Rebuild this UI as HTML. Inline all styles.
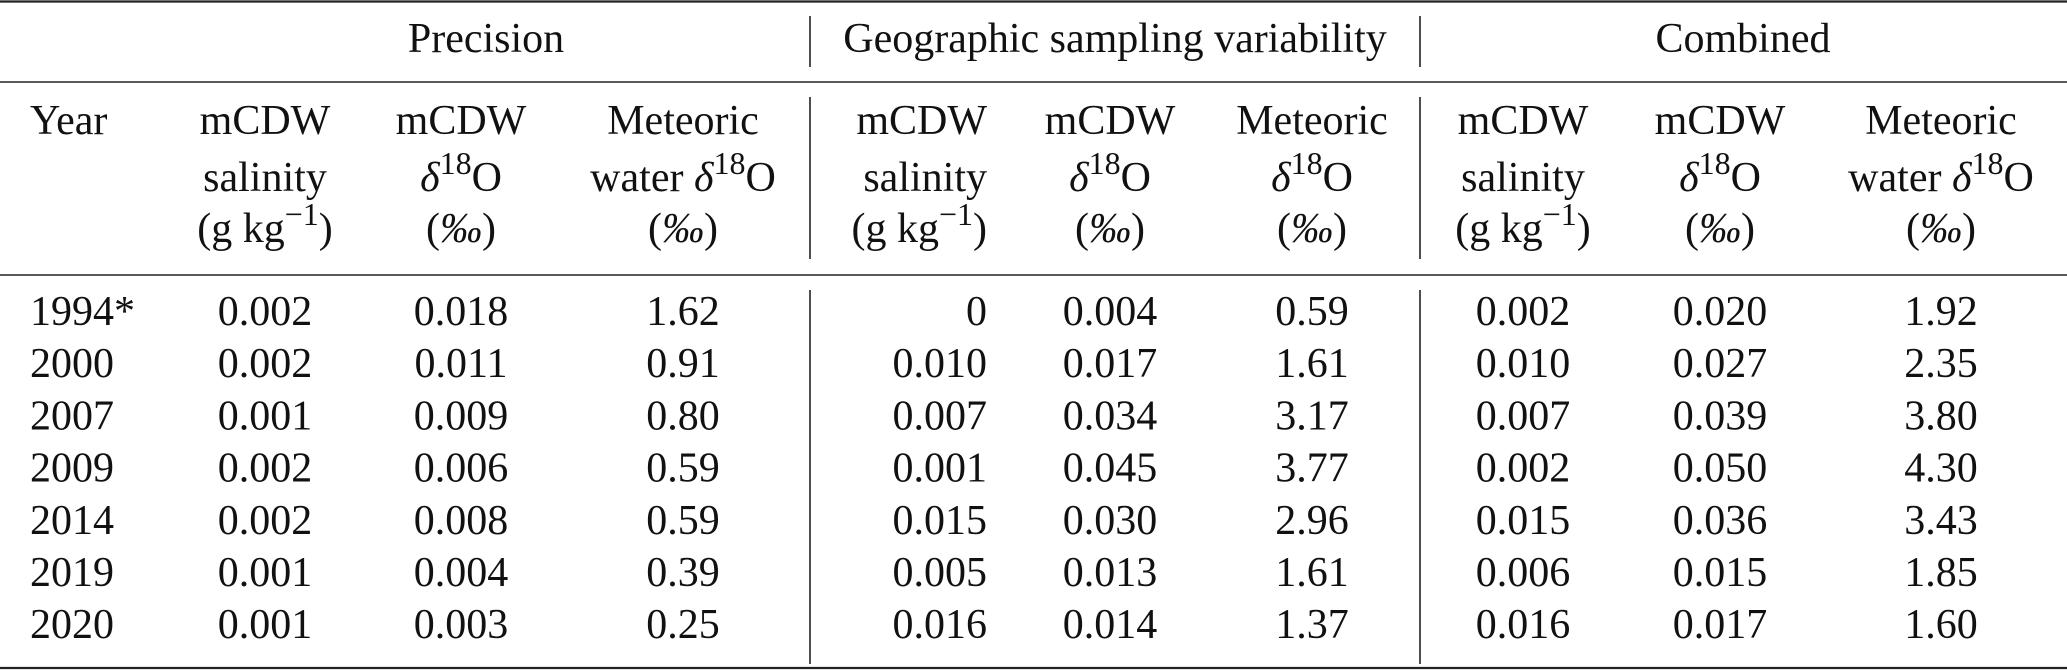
<!DOCTYPE html>
<html><head><meta charset="utf-8"><style>
html,body{margin:0;padding:0;background:#fff;}
svg{display:block;font-family:"Liberation Serif","DejaVu Serif",serif;}
text{fill:#111;font-size:42px;}
</style></head><body>
<svg id="tbl" width="2067" height="670" viewBox="0 0 2067 670">
<g id="rules">
<line x1="0" y1="1.5" x2="2067" y2="1.5" stroke="#222" stroke-width="2.2"/>
<line x1="0" y1="82" x2="2067" y2="82" stroke="#222" stroke-width="1.6"/>
<line x1="0" y1="275" x2="2067" y2="275" stroke="#222" stroke-width="1.6"/>
<line x1="0" y1="668" x2="2067" y2="668" stroke="#222" stroke-width="2.2"/>
</g>
<g id="header"></g>
<g id="body"></g>
</svg>
<script>
const years = ["1994*","2000","2007","2009","2014","2019","2020"];
const precSal = ["0.002","0.002","0.001","0.002","0.002","0.001","0.001"];
const precD18 = ["0.018","0.011","0.009","0.006","0.008","0.004","0.003"];
const precMet = ["1.62","0.91","0.80","0.59","0.59","0.39","0.25"];
const geoSal = ["0","0.010","0.007","0.001","0.015","0.005","0.016"];
const geoD18 = ["0.004","0.017","0.034","0.045","0.030","0.013","0.014"];
const geoMet = ["0.59","1.61","3.17","3.77","2.96","1.61","1.37"];
const combSal = ["0.002","0.010","0.007","0.002","0.015","0.006","0.016"];
const combD18 = ["0.020","0.027","0.039","0.050","0.036","0.015","0.017"];
const combMet = ["1.92","2.35","3.80","4.30","3.43","1.85","1.60"];
const groups = ["Precision","Geographic sampling variability","Combined"];

const NS="http://www.w3.org/2000/svg";
const hdr=document.getElementById('header'), body=document.getElementById('body'), svg=document.getElementById('tbl');
function txt(parent,x,y,anchor,html,name){
  const t=document.createElementNS(NS,'text');
  t.setAttribute('x',x);t.setAttribute('y',y);t.setAttribute('text-anchor',anchor);
  t.innerHTML=html;
  
  
  parent.appendChild(t);return t;
}
function vline(x,y1,y2,name){
  const l=document.createElementNS(NS,'line');
  l.setAttribute('x1',x);l.setAttribute('x2',x);l.setAttribute('y1',y1);l.setAttribute('y2',y2);
  l.setAttribute('stroke','#222');l.setAttribute('stroke-width','1.6');
  
  
  svg.appendChild(l);
}
const cols=[[30,'start'],[265,'middle'],[461,'middle'],[683,'middle'],[987,'end'],[1110,'middle'],[1312,'middle'],[1523,'middle'],[1720,'middle'],[1941,'middle']];
const groupX=[486,1115,1743];
groups.forEach((g,i)=>txt(hdr,groupX[i],52,'middle',g,'group-header-'+i));
[810,1420].forEach((x,i)=>{vline(x,16,67,'group-divider-'+i);vline(x,97,259,'header-divider-'+i);vline(x,290,664,'body-divider-'+i);});

const dItal='<tspan font-style="italic">δ</tspan><tspan font-size="32" dy="-17">18</tspan><tspan dy="17">O</tspan>';
const unitSal='(g kg<tspan font-size="32" dy="-17">−1</tspan><tspan dy="17">)</tspan>';
const unitPm='(<tspan font-style="italic">‰</tspan>)';
const B1=134,B2=191,B3=242;
txt(hdr,cols[0][0],B1,'start','Year','year-header');
const salHdr=(c,n)=>{txt(hdr,cols[c][0],B1,cols[c][1],'mCDW',n);txt(hdr,cols[c][0],B2,cols[c][1],'salinity',n+'-2');txt(hdr,cols[c][0],B3,cols[c][1],unitSal,n+'-unit');};
const d18Hdr=(c,n)=>{txt(hdr,cols[c][0],B1,'middle','mCDW',n);txt(hdr,cols[c][0],B2,'middle',dItal,n+'-2');txt(hdr,cols[c][0],B3,'middle',unitPm,n+'-unit');};
const metHdr=(c,n,water)=>{txt(hdr,cols[c][0],B1,'middle','Meteoric',n);txt(hdr,cols[c][0],B2,'middle',(water?'water ':'')+dItal,n+'-2');txt(hdr,cols[c][0],B3,'middle',unitPm,n+'-unit');};
salHdr(1,'prec-sal-header');d18Hdr(2,'prec-d18o-header');metHdr(3,'prec-met-header',true);
salHdr(4,'geo-sal-header');d18Hdr(5,'geo-d18o-header');metHdr(6,'geo-met-header',false);
salHdr(7,'comb-sal-header');d18Hdr(8,'comb-d18o-header');metHdr(9,'comb-met-header',true);

const series=[years,precSal,precD18,precMet,geoSal,geoD18,geoMet,combSal,combD18,combMet];
const names=['year','prec-sal','prec-d18o','prec-met','geo-sal','geo-d18o','geo-met','comb-sal','comb-d18o','comb-met'];
const rowY=i=>325+52.2*i;
years.forEach((y,i)=>{
  series.forEach((s,c)=>txt(body,cols[c][0],rowY(i),cols[c][1],s[i],names[c]+'-cell-'+i));
});
</script>
</body></html>
